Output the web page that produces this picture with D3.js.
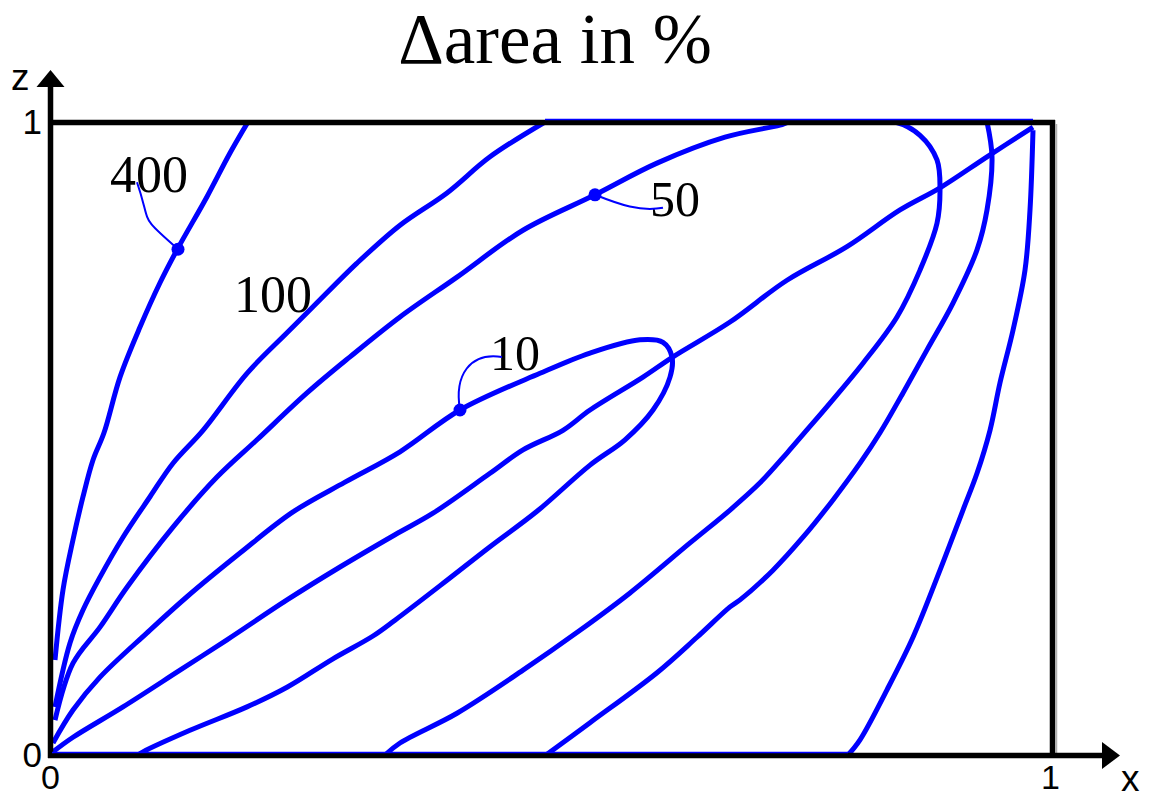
<!DOCTYPE html>
<html>
<head>
<meta charset="utf-8">
<script src="https://cdn.jsdelivr.net/npm/d3@7"></script>
<style>
  html, body { margin: 0; padding: 0; background: #fff; }
  svg { display: block; }
</style>
</head>
<body>
<svg id="chart" width="1157" height="798"></svg>
<script>
// Relative area change (%) over the unit square, drawn as contour lines.
const xTicks = [0, 1];
const zTicks = [0, 1];

// Each contour is a list of [x, z] points.
const contour400Left = [[0.003,0.150],[0.011,0.261],[0.021,0.340],[0.031,0.408],[0.041,0.466],[0.052,0.509],[0.068,0.597],[0.088,0.676],[0.108,0.746],[0.125,0.798],[0.155,0.882],[0.178,0.951],[0.196,1.0]];
const contour100Left = [[0.003,0.076],[0.018,0.177],[0.031,0.229],[0.048,0.281],[0.071,0.344],[0.098,0.408],[0.121,0.461],[0.151,0.513],[0.195,0.603],[0.235,0.667],[0.261,0.708],[0.305,0.777],[0.348,0.837],[0.395,0.888],[0.438,0.945],[0.493,1.0]];
const contour50 = [[0.003,0.055],[0.021,0.145],[0.048,0.202],[0.075,0.265],[0.121,0.360],[0.165,0.439],[0.205,0.498],[0.255,0.572],[0.298,0.629],[0.348,0.692],[0.405,0.755],[0.471,0.829],[0.543,0.885],[0.605,0.935],[0.673,0.976],[0.728,0.995],[0.738,1.0],[0.843,1.0],[0.868,0.979],[0.885,0.940],[0.888,0.893],[0.885,0.840],[0.868,0.766],[0.845,0.692],[0.811,0.619],[0.778,0.556],[0.753,0.510],[0.735,0.477],[0.708,0.430],[0.678,0.387],[0.638,0.335],[0.578,0.256],[0.528,0.197],[0.471,0.134],[0.405,0.066],[0.348,0.019],[0.333,0.0]];
const contour10 = [[0.001,0.019],[0.021,0.071],[0.048,0.123],[0.095,0.193],[0.135,0.250],[0.188,0.319],[0.241,0.384],[0.293,0.431],[0.348,0.479],[0.408,0.545],[0.488,0.603],[0.538,0.635],[0.588,0.656],[0.611,0.652],[0.620,0.629],[0.618,0.597],[0.601,0.545],[0.573,0.498],[0.538,0.458],[0.485,0.385],[0.438,0.329],[0.395,0.276],[0.343,0.213],[0.321,0.188],[0.281,0.152],[0.235,0.107],[0.195,0.076],[0.138,0.039],[0.091,0.005],[0.086,0.0]];
const contourDiagonal = [[0.001,0.005],[0.021,0.028],[0.071,0.076],[0.128,0.134],[0.175,0.182],[0.235,0.245],[0.288,0.297],[0.343,0.348],[0.381,0.382],[0.438,0.445],[0.471,0.482],[0.511,0.513],[0.538,0.545],[0.591,0.597],[0.621,0.629],[0.678,0.684],[0.735,0.750],[0.795,0.803],[0.848,0.861],[0.888,0.896],[0.935,0.945],[0.981,0.992]];
const contour100Right = [[0.494,0.0],[0.538,0.051],[0.605,0.130],[0.645,0.186],[0.678,0.234],[0.688,0.245],[0.721,0.292],[0.751,0.344],[0.781,0.403],[0.808,0.461],[0.828,0.509],[0.851,0.572],[0.875,0.640],[0.901,0.714],[0.925,0.798],[0.935,0.861],[0.940,0.945],[0.935,1.0]];
const contour400Right = [[0.796,0.0],[0.808,0.024],[0.835,0.103],[0.861,0.186],[0.888,0.292],[0.911,0.387],[0.925,0.445],[0.938,0.513],[0.948,0.588],[0.961,0.671],[0.973,0.766],[0.978,0.861],[0.981,0.987]];

const contours = [contour400Left, contour100Left, contour50, contour10, contourDiagonal, contour100Right, contour400Right];

// Labelled levels: marker point on the curve and its label
const levelLabels = ["400", "100", "50", "10"];
const levelPoints = [[0.126, 0.799], null, [0.543, 0.885], [0.408, 0.545]];
const labelAnchors = [[0.058, 0.889], [0.182, 0.700], [0.598, 0.851], [0.438, 0.609]];

// Contour runs lying on the frame edges
const topEdgeRun = [0.493, 0.981];
const bottomEdgeRun = [0.0, 0.796];

const titleText = "\u0394area in %";

const svg = d3.select("#chart");
const x = d3.scaleLinear().domain([0, 1]).range([52, 1052]);
const z = d3.scaleLinear().domain([0, 1]).range([755, 122]);

const blue = "#0000ff";

// keep the contour lines inside the unit square
svg.append("defs").append("clipPath")
  .attr("id", "plot-clip")
  .append("rect")
  .attr("x", x(0) - 4).attr("y", z(1))
  .attr("width", x(1) - x(0) + 8).attr("height", z(0) - z(1) + 4);

// contour lines
const line = d3.line()
  .x(d => x(d[0]))
  .y(d => z(d[1]))
  .curve(d3.curveCatmullRom.alpha(0.5));

svg.append("g")
  .attr("clip-path", "url(#plot-clip)")
  .selectAll("path")
  .data(contours)
  .join("path")
  .attr("d", line)
  .attr("fill", "none")
  .attr("stroke", blue)
  .attr("stroke-width", 5)
  .attr("stroke-linejoin", "round")
  .attr("stroke-linecap", "butt");

// frame: top and right borders
const frame = svg.append("g");
frame.append("line")
  .attr("x1", x(1) + 4.5).attr("x2", x(1) + 4.5)
  .attr("y1", z(1) + 2).attr("y2", z(0) - 1)
  .attr("stroke", "#b0b0b0").attr("stroke-width", 1.5);
frame.append("line")
  .attr("x1", x(0) - 1).attr("x2", x(1) + 3)
  .attr("y1", z(1) + 0.5).attr("y2", z(1) + 0.5)
  .attr("stroke", "#000").attr("stroke-width", 5.5);
frame.append("line")
  .attr("x1", x(1) + 0.5).attr("x2", x(1) + 0.5)
  .attr("y1", z(1) - 2).attr("y2", z(0))
  .attr("stroke", "#000").attr("stroke-width", 5.5);

// axes with arrow heads
const axisG = svg.append("g");
const zTip = 70, xTip = 1120;
axisG.append("line")
  .attr("x1", x(0) - 1.5).attr("x2", x(0) - 1.5)
  .attr("y1", z(0) + 3).attr("y2", zTip + 12)
  .attr("stroke", "#000").attr("stroke-width", 5.5);
axisG.append("line")
  .attr("x1", x(0) - 4).attr("x2", xTip - 12)
  .attr("y1", z(0) + 0.5).attr("y2", z(0) + 0.5)
  .attr("stroke", "#000").attr("stroke-width", 5.5);
axisG.append("path")
  .attr("d", `M${x(0) - 1.5},${zTip} L${x(0) - 15.5},${zTip + 17} L${x(0) + 12.5},${zTip + 17} Z`)
  .attr("fill", "#000");
axisG.append("path")
  .attr("d", `M${xTip},${z(0) + 0.5} L${xTip - 18},${z(0) - 13} L${xTip - 18},${z(0) + 14} Z`)
  .attr("fill", "#000");

// contour runs along the frame edges
svg.append("line")
  .attr("x1", x(topEdgeRun[0])).attr("x2", x(topEdgeRun[1]))
  .attr("y1", z(1) - 2.5).attr("y2", z(1) - 2.5)
  .attr("stroke", blue).attr("stroke-width", 1.5);
svg.append("line")
  .attr("x1", x(bottomEdgeRun[0])).attr("x2", x(bottomEdgeRun[1]))
  .attr("y1", z(0) - 2.5).attr("y2", z(0) - 2.5)
  .attr("stroke", blue).attr("stroke-width", 1.5);

// tick labels
const tickFont = "'Liberation Sans', Arial, sans-serif";
const leftAxis = svg.append("g")
  .attr("transform", `translate(${x(0) - 1},0)`)
  .call(d3.axisLeft(z).tickValues(zTicks).tickFormat(d3.format("d")).tickSize(0).tickPadding(9));
const bottomAxis = svg.append("g")
  .attr("transform", `translate(-2,${z(0)})`)
  .call(d3.axisBottom(x).tickValues(xTicks).tickFormat(d3.format("d")).tickSize(0).tickPadding(10));
leftAxis.selectAll("text").attr("font-size", 35);
bottomAxis.selectAll("text").attr("font-size", 34);
[leftAxis, bottomAxis].forEach(g => {
  g.select(".domain").remove();
  g.selectAll("text")
    .attr("font-family", tickFont)
    .attr("fill", "#000");
});

// axis names
svg.append("text")
  .attr("x", 11).attr("y", 90)
  .attr("font-family", tickFont).attr("font-size", 37)
  .text("z");
svg.append("text")
  .attr("x", 1121).attr("y", 791)
  .attr("font-family", tickFont).attr("font-size", 37)
  .text("x");

// title
svg.append("text")
  .attr("x", 555).attr("y", 63)
  .attr("text-anchor", "middle")
  .attr("font-family", "'Liberation Serif', 'Times New Roman', serif")
  .attr("font-size", 71)
  .text(titleText);

// level labels with leader lines
const serif = "'Liberation Serif', 'Times New Roman', serif";
const leaderShapes = [
  // [end of leader near label, control 1, control 2] relative to marker point (px)
  [[-41, -67], [-40, -35], [-26, -23]],
  null,
  [[68, 13], [25, 10], [45, 17]],
  [[42, -53], [-6, -35], [10, -58]]
];
const labelSizes = [52, 52, 50, 50];

levelLabels.forEach((lab, i) => {
  svg.append("text")
    .attr("x", x(labelAnchors[i][0]))
    .attr("y", z(labelAnchors[i][1]))
    .attr("font-family", serif)
    .attr("font-size", labelSizes[i])
    .attr("fill", "#000")
    .text(lab);
  const p = levelPoints[i];
  if (!p) return;
  const px = x(p[0]), pz = z(p[1]);
  const s = leaderShapes[i];
  const path = d3.path();
  path.moveTo(px, pz);
  path.bezierCurveTo(px + s[1][0], pz + s[1][1], px + s[2][0], pz + s[2][1], px + s[0][0], pz + s[0][1]);
  svg.append("path")
    .attr("d", path.toString())
    .attr("fill", "none")
    .attr("stroke", blue)
    .attr("stroke-width", 2);
  svg.append("circle")
    .attr("cx", px).attr("cy", pz).attr("r", 6.5)
    .attr("fill", blue);
});
</script>
</body>
</html>
